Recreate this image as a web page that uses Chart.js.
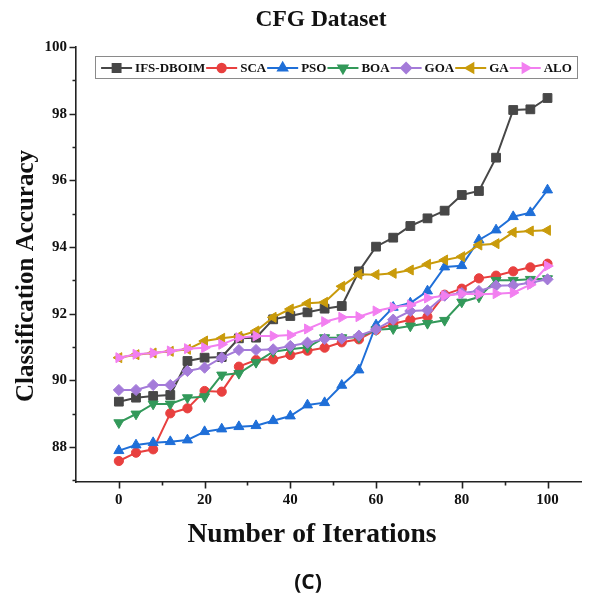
<!DOCTYPE html>
<html>
<head>
<meta charset="utf-8">
<title>CFG Dataset</title>
<script src="https://cdn.jsdelivr.net/npm/chart.js@4.4.0/dist/chart.umd.min.js"></script>
<style>
  html, body { margin: 0; padding: 0; background: #fff; overflow: hidden; }
  #wrap { position: relative; width: 589px; height: 603px; }
</style>
</head>
<body>
<div id="wrap"><canvas id="chart" width="589" height="603"></canvas></div>
<script>
// Iteration numbers sampled every 4 iterations
const iterations = [0, 4, 8, 12, 16, 20, 24, 28, 32, 36, 40, 44, 48, 52,
                    56, 60, 64, 68, 72, 76, 80, 84, 88, 92, 96, 100];

// Classification accuracy (%) per algorithm
const ifsDboim = [89.36, 89.48, 89.53, 89.56, 90.58, 90.68, 90.70, 91.26, 91.28, 91.83, 91.93, 92.04, 92.15, 92.23,
                  93.27, 94.01, 94.28, 94.63, 94.86, 95.09, 95.56, 95.68, 96.68, 98.11, 98.13, 98.47];
const sca      = [87.58, 87.83, 87.93, 89.01, 89.16, 89.68, 89.66, 90.41, 90.61, 90.63, 90.76, 90.89, 90.98, 91.14,
                  91.23, 91.51, 91.70, 91.82, 91.91, 92.57, 92.75, 93.06, 93.14, 93.27, 93.39, 93.50];
const pso      = [87.89, 88.06, 88.13, 88.16, 88.21, 88.46, 88.54, 88.61, 88.64, 88.79, 88.93, 89.26, 89.33, 89.85,
                  90.31, 91.66, 92.19, 92.32, 92.68, 93.40, 93.44, 94.21, 94.51, 94.91, 95.03, 95.71];
const boa      = [88.73, 88.99, 89.29, 89.29, 89.48, 89.51, 90.16, 90.21, 90.54, 90.86, 90.93, 90.99, 91.28, 91.28,
                  91.29, 91.52, 91.55, 91.63, 91.71, 91.80, 92.35, 92.50, 93.00, 93.00, 93.03, 93.05];
const goa      = [89.71, 89.71, 89.86, 89.86, 90.28, 90.38, 90.68, 90.91, 90.91, 90.93, 91.03, 91.13, 91.24, 91.25,
                  91.34, 91.53, 91.82, 92.08, 92.10, 92.54, 92.62, 92.68, 92.84, 92.85, 92.93, 93.03];
const ga       = [90.68, 90.77, 90.82, 90.87, 90.93, 91.18, 91.26, 91.32, 91.48, 91.89, 92.14, 92.31, 92.34, 92.82,
                  93.18, 93.17, 93.21, 93.31, 93.48, 93.61, 93.71, 94.06, 94.10, 94.44, 94.48, 94.50];
const alo      = [90.68, 90.78, 90.82, 90.88, 90.95, 90.98, 91.08, 91.28, 91.33, 91.33, 91.36, 91.54, 91.76, 91.89,
                  91.91, 92.08, 92.19, 92.26, 92.47, 92.54, 92.60, 92.58, 92.60, 92.63, 92.87, 93.43];

const seriesNames = ['IFS-DBOIM', 'SCA', 'PSO', 'BOA', 'GOA', 'GA', 'ALO'];
const seriesValues = [ifsDboim, sca, pso, boa, goa, ga, alo];

// Axis tick labels
const xTickValues = [0, 20, 40, 60, 80, 100];
const yTickValues = [88, 90, 92, 94, 96, 98, 100];

const chartTitle = 'CFG Dataset';
const xAxisTitle = 'Number of Iterations';
const yAxisTitle = 'Classification Accuracy';
const panelLabel = '(C)';

// Visual style per series
const styles = [
  { color: '#474747', pointStyle: 'rect',     rotation: 0,   radius: 6.2 },
  { color: '#e8403f', pointStyle: 'circle',   rotation: 0,   radius: 4.6 },
  { color: '#1f6fd8', pointStyle: 'triangle', rotation: 0,   radius: 5.8 },
  { color: '#33995a', pointStyle: 'triangle', rotation: 180, radius: 5.8 },
  { color: '#a47bd9', pointStyle: 'rectRot',  rotation: 0,   radius: 5.6 },
  { color: '#c99b0b', pointStyle: 'triangle', rotation: -90, radius: 5.8 },
  { color: '#f27ff0', pointStyle: 'triangle', rotation: 90,  radius: 5.8 }
];

const serif = '"Liberation Serif", "Times New Roman", serif';

const datasets = seriesNames.map((name, i) => ({
  label: name,
  data: iterations.map((it, k) => ({ x: it, y: seriesValues[i][k] })),
  borderColor: styles[i].color,
  backgroundColor: styles[i].color,
  pointBackgroundColor: styles[i].color,
  pointBorderColor: styles[i].color,
  pointStyle: styles[i].pointStyle,
  pointRotation: styles[i].rotation,
  pointRadius: styles[i].radius,
  pointBorderWidth: 1,
  borderWidth: 2,
  tension: 0,
  order: seriesNames.length - i
}));

// Tick marks (major + minor) drawn outward from both axes
const tickMarks = {
  id: 'tickMarks',
  afterDraw(chart) {
    const ctx = chart.ctx;
    const xs = chart.scales.x, ys = chart.scales.y;
    ctx.save();
    ctx.strokeStyle = '#222';
    ctx.lineWidth = 1.6;
    ctx.beginPath();
    for (let v = 0; v <= 100; v += 10) {
      const px = Math.round(xs.getPixelForValue(v)) + 0.5;
      const len = (v % 20 === 0) ? 6.5 : 3.5;
      ctx.moveTo(px, xs.top);
      ctx.lineTo(px, xs.top + len);
    }
    for (let v = 87; v <= 100; v += 1) {
      const py = Math.round(ys.getPixelForValue(v)) + 0.5;
      const len = (v % 2 === 0) ? 6.5 : 3.5;
      ctx.moveTo(ys.right, py);
      ctx.lineTo(ys.right - len, py);
    }
    ctx.stroke();
    ctx.restore();
  }
};

// Legend box inside the plot: line segment + marker + label per series
const lineLegend = {
  id: 'lineLegend',
  afterDraw(chart) {
    const ctx = chart.ctx;
    const box = { left: 95.5, top: 56.5, right: 577.5, bottom: 78.5 };
    ctx.save();
    ctx.fillStyle = '#fff';
    ctx.fillRect(box.left, box.top, box.right - box.left, box.bottom - box.top);
    ctx.strokeStyle = '#8a8a8a';
    ctx.lineWidth = 1;
    ctx.strokeRect(box.left, box.top, box.right - box.left, box.bottom - box.top);

    ctx.font = 'bold 13px ' + serif;
    const segLen = 31, gapAfterSeg = 3, gapAfterText = 1;
    const widths = chart.data.datasets.map(d => ctx.measureText(d.label).width);
    const total = widths.reduce((a, w) => a + segLen + gapAfterSeg + w + gapAfterText, 0) - gapAfterText;
    let x = box.left + ((box.right - box.left) - total) / 2;
    const cy = (box.top + box.bottom) / 2 + 0.5;
    chart.data.datasets.forEach((d, i) => {
      ctx.strokeStyle = d.borderColor;
      ctx.fillStyle = d.borderColor;
      ctx.lineWidth = 2;
      ctx.beginPath();
      ctx.moveTo(x, cy);
      ctx.lineTo(x + segLen, cy);
      ctx.stroke();
      Chart.helpers.drawPoint(ctx, {
        pointStyle: d.pointStyle,
        rotation: d.pointRotation,
        radius: d.pointRadius * 0.9,
        borderWidth: 1
      }, x + segLen / 2, cy);
      x += segLen + gapAfterSeg;
      ctx.fillStyle = '#111';
      ctx.textBaseline = 'middle';
      ctx.textAlign = 'left';
      ctx.fillText(d.label, x, cy + 0.5);
      x += widths[i] + gapAfterText;
    });
    ctx.restore();
  }
};

// Chart title, axis titles and panel label
const captions = {
  id: 'captions',
  afterDraw(chart) {
    const ctx = chart.ctx;
    ctx.save();
    ctx.fillStyle = '#111';
    ctx.textAlign = 'center';
    ctx.textBaseline = 'middle';
    ctx.font = 'bold 23.5px ' + serif;
    ctx.fillText(chartTitle, 321, 20);
    ctx.font = 'bold 27.5px ' + serif;
    ctx.fillText(xAxisTitle, 312, 535);
    ctx.font = 'bold 25px ' + serif;
    ctx.save();
    ctx.translate(27, 276);
    ctx.rotate(-Math.PI / 2);
    ctx.fillText(yAxisTitle, 0, 0);
    ctx.restore();
    ctx.font = 'bold 21px "Open Sans", Lato, sans-serif';
    ctx.fillText(panelLabel, 308, 583);
    ctx.restore();
  }
};

new Chart(document.getElementById('chart'), {
  type: 'line',
  data: { datasets },
  options: {
    responsive: false,
    animation: false,
    devicePixelRatio: 1,
    layout: { padding: { left: 0, right: 7, top: 47, bottom: 81 } },
    plugins: {
      legend: { display: false },
      title: { display: false },
      tooltip: { enabled: false }
    },
    scales: {
      x: {
        type: 'linear',
        min: -10,
        max: 108,
        afterFit(scale) { scale.height = 40; },
        afterBuildTicks(scale) { scale.ticks = xTickValues.map(v => ({ value: v })); },
        grid: { display: false, drawTicks: false },
        border: { display: true, color: '#222', width: 1.6 },
        ticks: {
          padding: 9,
          color: '#111',
          font: { family: serif, size: 15, weight: 'bold' },
          maxRotation: 0
        }
      },
      y: {
        type: 'linear',
        min: 86.95,
        max: 100,
        afterFit(scale) { scale.width = 76; },
        afterBuildTicks(scale) { scale.ticks = yTickValues.map(v => ({ value: v })); },
        grid: { display: false, drawTicks: false },
        border: { display: true, color: '#222', width: 1.6 },
        ticks: {
          padding: 9,
          color: '#111',
          font: { family: serif, size: 15, weight: 'bold' }
        }
      }
    }
  },
  plugins: [tickMarks, lineLegend, captions]
});
</script>
</body>
</html>
